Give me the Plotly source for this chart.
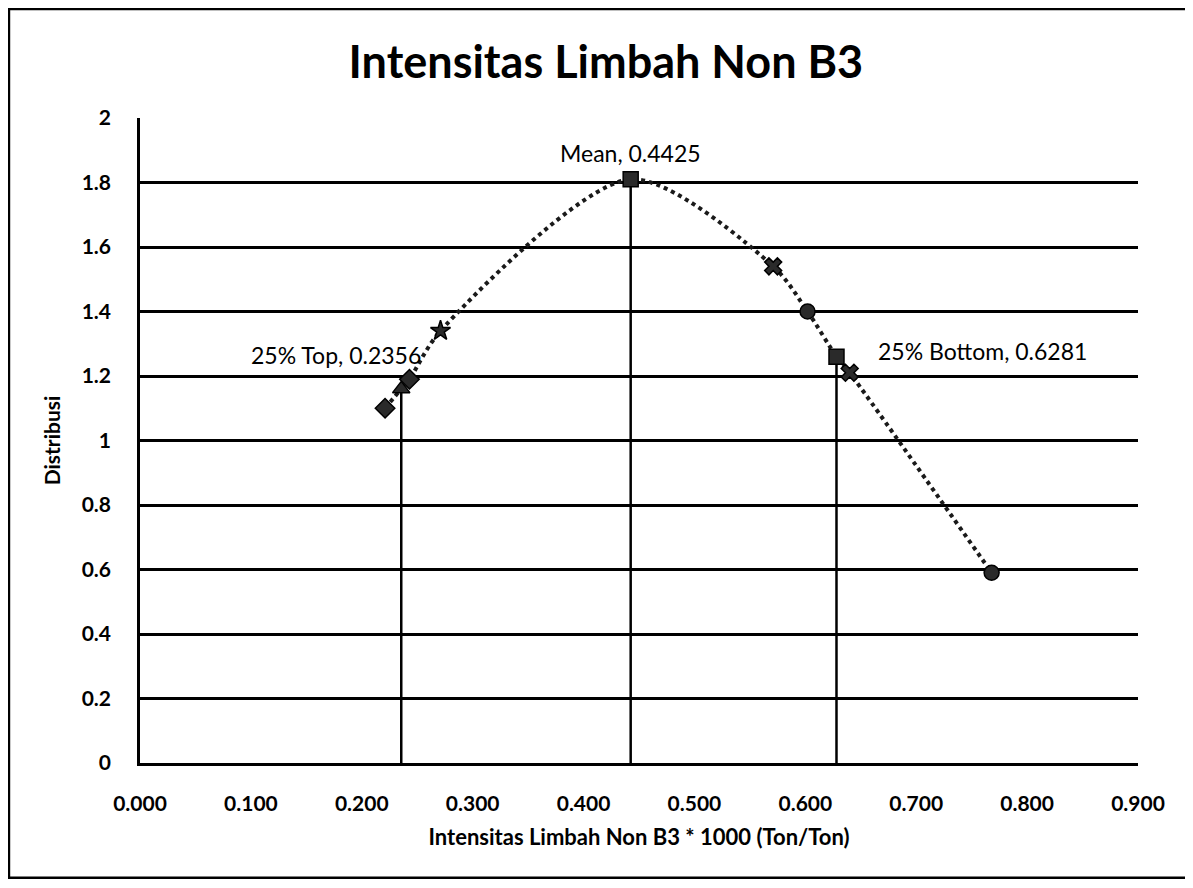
import plotly.graph_objects as go

# distribusi points
x_pts = [0.221, 0.2356, 0.243, 0.271, 0.4425, 0.571, 0.602, 0.6281, 0.640, 0.768]
y_pts = [1.10, 1.16, 1.19, 1.34, 1.81, 1.54, 1.40, 1.26, 1.21, 0.59]
symbols = ["diamond", "triangle-up", "diamond", "star", "square",
           "x", "circle", "square", "x", "circle"]

# reference lines: 25% top, mean, 25% bottom
ref_names = ["25% Top", "Mean", "25% Bottom"]
ref_x = [0.2356, 0.4425, 0.6281]
ref_y = [1.16, 1.81, 1.26]

FONT = "Lato"

fig = go.Figure()

# curve
fig.add_trace(go.Scatter(
    x=x_pts, y=y_pts, mode="lines",
    line=dict(color="#1a1a1a", width=4, dash="dot", shape="spline", smoothing=0.8),
    hoverinfo="skip", showlegend=False,
))

# vertical lines from axis to curve
for rx, ry in zip(ref_x, ref_y):
    fig.add_trace(go.Scatter(
        x=[rx, rx], y=[0, ry], mode="lines",
        line=dict(color="black", width=2.5),
        hoverinfo="skip", showlegend=False,
    ))

# markers
fig.add_trace(go.Scatter(
    x=x_pts, y=y_pts, mode="markers",
    marker=dict(symbol=symbols, size=15, color="#2a2a2a",
                line=dict(color="black", width=1.5)),
    showlegend=False,
))

# labels
label_pos = {
    "25% Top": dict(xanchor="right", yanchor="middle", xshift=22, yshift=34),
    "Mean": dict(xanchor="center", yanchor="bottom", xshift=0, yshift=10),
    "25% Bottom": dict(xanchor="left", yanchor="middle", xshift=40, yshift=6),
}
for name, rx, ry in zip(ref_names, ref_x, ref_y):
    fig.add_annotation(
        x=rx, y=ry, text=f"{name}, {rx:.4f}", showarrow=False,
        font=dict(family=FONT, size=23, color="black"),
        **label_pos[name],
    )

# outer chart frame (right edge falls outside the scan)
fig.add_shape(type="path", xref="paper", yref="paper",
              path="M 1.2,1.169 L -0.1313,1.169 L -0.1313,-0.178 L 1.2,-0.178",
              line=dict(color="black", width=2.5))

# page body has an 8px margin, so the figure is made 16px smaller to fit the window
fig.update_layout(
    width=1177, height=872,
    margin=dict(l=132, r=47, t=110, b=117, autoexpand=False),
    paper_bgcolor="white", plot_bgcolor="white",
    font=dict(family=FONT, color="black"),
    title=dict(text="<b>Intensitas Limbah Non B3</b>", x=0.508, xanchor="center",
               y=0.938, yanchor="middle",
               font=dict(family=FONT, size=45, color="black")),
)

fig.update_xaxes(
    range=[0, 0.9], dtick=0.1, tickformat=".3f",
    showgrid=False, zeroline=False,
    showline=True, linecolor="black", linewidth=2.5,
    automargin=False,
    ticklabelstandoff=20,
    tickfont=dict(family=FONT, size=21, color="black", weight="bold"),
    title=dict(text="<b>Intensitas Limbah Non B3 * 1000 (Ton/Ton)</b>",
               font=dict(family=FONT, size=22), standoff=16),
)
fig.update_yaxes(
    range=[0, 2], dtick=0.2,
    showgrid=True, gridcolor="black", gridwidth=2.5,
    zeroline=False,
    showline=True, linecolor="black", linewidth=2.5, mirror=False,
    automargin=False,
    ticklabelstandoff=22,
    tickfont=dict(family=FONT, size=21, color="black", weight="bold"),
    title=dict(text="<b>Distribusi</b>", font=dict(family=FONT, size=21), standoff=16),
)

fig.write_html("out.html")
